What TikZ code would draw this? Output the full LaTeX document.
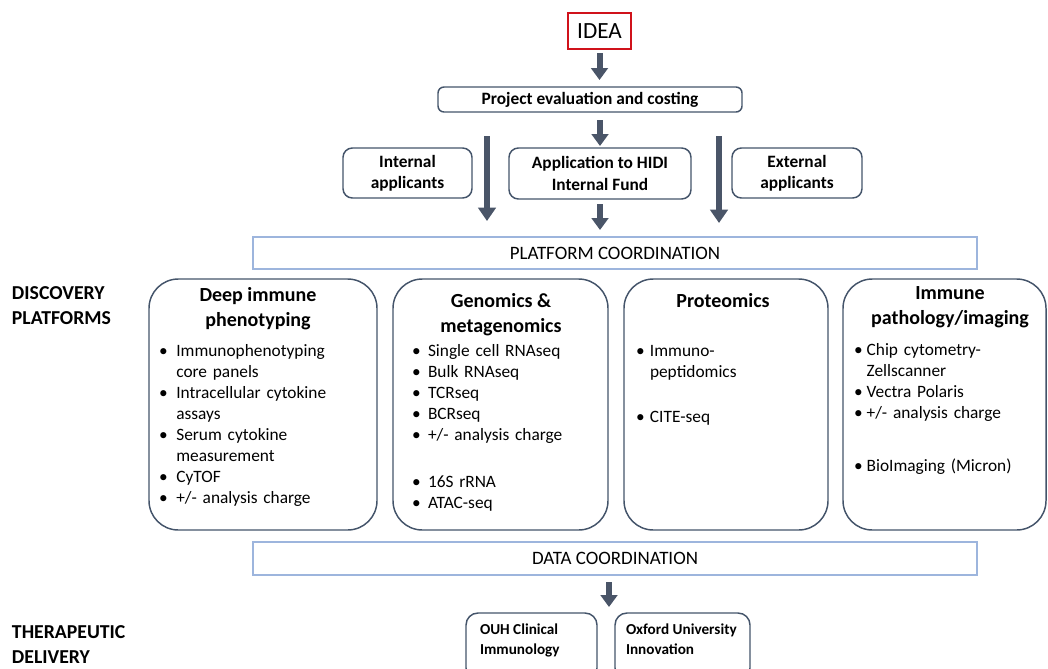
\documentclass[tikz,border=0pt]{standalone}
\usepackage{fontspec}
\setmainfont{Carlito}
\usetikzlibrary{arrows.meta,calc,fit}
\definecolor{bd}{HTML}{44546A}
\definecolor{lb}{HTML}{9DB5DD}
\definecolor{ar}{HTML}{4A5568}
\definecolor{idr}{HTML}{D0121B}
\newcommand\itm[2][10.5pt]{\par\hangindent=#1\hangafter=1\noindent\makebox[#1][l]{\textbullet}#2}
\begin{document}
\begin{tikzpicture}[x=0.75pt,y=-0.75pt,
  every node/.style={inner sep=0pt, outer sep=0pt},
  pbox/.style={draw=bd, line width=1.1pt, rounded corners=#1},
  coordbox/.style={draw=lb, line width=1.2pt},
  idbox/.style={draw=idr, line width=2.2pt},
  bigarrow/.style={draw=ar, line width=4.5pt, -{Triangle[width=12.5pt,length=9pt]}},
  longarrow/.style={draw=ar, line width=5pt, -{Triangle[width=13pt,length=10pt]}},
  hd/.style={font=\bfseries\fontsize{15}{18.75}\selectfont, align=center},
  sm/.style={font=\bfseries\fontsize{13}{16}\selectfont, align=center},
  lbl/.style={font=\bfseries\fontsize{14.8}{18.5}\selectfont, align=left, anchor=north west},
  lst/.style={font=\fontsize{13}{15.75}\selectfont, text width=200pt, anchor=north west},
  ]
\useasboundingbox (0,0) rectangle (1048,668);

% top part
\node[idbox, fit={(568,13) (631,49)}] (idea) {};
\node[font=\fontsize{17.4}{20}\selectfont] (ideat) at (idea.center) {IDEA};
\node[pbox=4.5pt, fit={(438,87) (742,112)}] (proj) {};
\node[sm] (projt) at (proj.center) {Project evaluation and costing};
\node[pbox=7pt, fit={(343,148) (472,198)}] (int) {};
\node[sm] (intt) at (int.center) {Internal\\applicants};
\node[pbox=7pt, fit={(509,148) (691,199)}] (app) {};
\node[sm] (appt) at (app.center) {Application to HIDI\\Internal Fund};
\node[pbox=7pt, fit={(732,148) (862,198)}] (ext) {};
\node[sm] (extt) at (ext.center) {External\\applicants};
\node[coordbox, fit={(253,237) (977,269)}] (plat) {};
\node[font=\fontsize{14.2}{16}\selectfont] (platt) at (plat.center) {PLATFORM COORDINATION};

\draw[bigarrow] ($(idea.south)+(0,4)$) -- ($(idea.south |- proj.north)+(0,-7)$);
\draw[bigarrow] ($(proj.south -| app.north)+(0,8)$) -- ($(app.north)+(0,-2)$);
\draw[bigarrow] ($(app.south)+(0,5)$) -- ($(plat.north -| app.south)+(0,-7)$);
\coordinate (la) at (487,136);
\coordinate (ra) at (719,136);
\draw[longarrow] (la) -- ($(la |- plat.north)+(0,-16)$);
\draw[longarrow] (ra) -- ($(ra |- plat.north)+(0,-14)$);

% side labels
\node[lbl] (disc) at (12,287) {DISCOVERY\\PLATFORMS};
\node[lbl] (ther) at (12,626) {THERAPEUTIC\\DELIVERY};

% platform boxes
\node[pbox=22pt, fit={(149,279) (377,530)}] (b1) {};
\node[pbox=22pt, fit={(393,279) (608,530)}] (b2) {};
\node[pbox=22pt, fit={(624,279) (828,530)}] (b3) {};
\node[pbox=22pt, fit={(843,279) (1046,530)}] (b4) {};

\node[hd, anchor=north] (h1) at (258,287) {Deep immune\\phenotyping};
\node[hd, anchor=north] (h2) at (501,293) {Genomics \&\\metagenomics};
\node[hd, anchor=north] (h3) at (723,293) {Proteomics};
\node[hd, anchor=north] (h4) at (950,287) {Immune\\pathology/imaging};

\node[lst] (l1) at (159,335) {%
\itm[13pt]{Immunophenotyping\newline core panels}%
\itm[13pt]{Intracellular cytokine\newline assays}%
\itm[13pt]{Serum cytokine\newline measurement}%
\itm[13pt]{CyTOF}%
\itm[13pt]{+/- analysis charge}};

\node[lst] (l2) at (412,335) {%
\itm[12pt]{Single cell RNAseq}%
\itm[12pt]{Bulk RNAseq}%
\itm[12pt]{TCRseq}%
\itm[12pt]{BCRseq}%
\itm[12pt]{+/- analysis charge}%
\par\vspace{19.5pt}%
\itm[12pt]{16S rRNA}%
\itm[12pt]{ATAC-seq}};

\node[lst] (l3) at (636,335) {%
\itm[10.5pt]{Immuno-\newline peptidomics}%
\par\vspace{18pt}%
\itm[10.5pt]{CITE-seq}};

\node[lst] (l4) at (854,334) {%
\itm[9.5pt]{Chip cytometry-\newline Zellscanner}%
\itm[9.5pt]{Vectra Polaris}%
\itm[9.5pt]{+/- analysis charge}%
\par\vspace{24pt}%
\itm[9.5pt]{BioImaging (Micron)}};

% bottom part
\node[coordbox, fit={(253,542) (977,575)}] (data) {};
\node[font=\fontsize{14.2}{16}\selectfont] (datat) at (data.center) {DATA COORDINATION};
\node[pbox=9pt, fit={(466,613) (597,680)}] (ouh) {};
\node[font=\bfseries\fontsize{11.4}{14.5}\selectfont, align=left, anchor=north west] (ouht) at (480,624) {OUH Clinical\\Immunology};
\node[pbox=9pt, fit={(615,613) (750,680)}] (oxf) {};
\node[font=\bfseries\fontsize{11.4}{14.5}\selectfont, align=left, anchor=north west] (oxft) at (626,624) {Oxford University\\Innovation};
\coordinate (dmid) at ($(ouh.north east)!0.5!(oxf.north west)$);
\coordinate (darr) at (609,0);
\draw[bigarrow] ($(darr |- data.south)+(0,7)$) -- ($(darr |- dmid)+(0,-6)$);
\end{tikzpicture}
\end{document}
